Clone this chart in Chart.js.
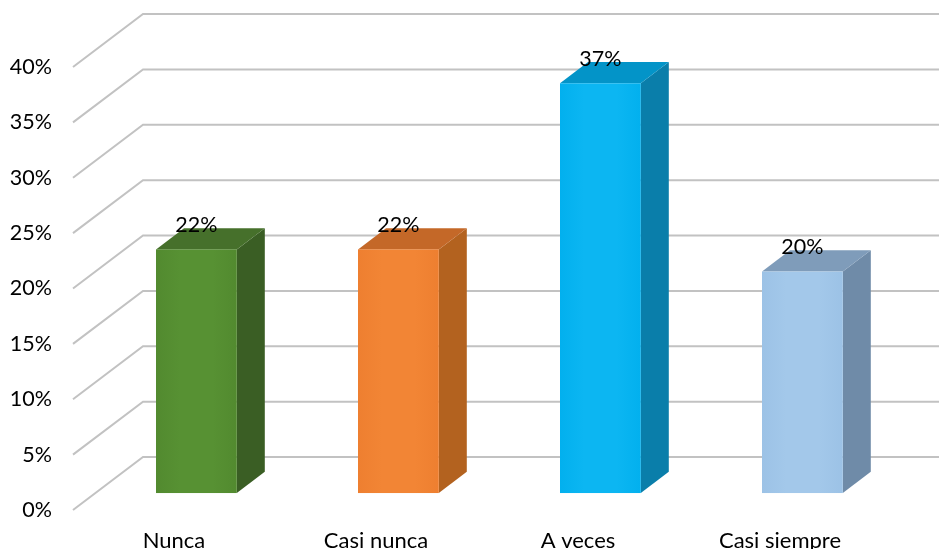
<!DOCTYPE html>
<html>
<head>
<meta charset="utf-8">
<script src="https://cdn.jsdelivr.net/npm/chart.js@4/dist/chart.umd.min.js"></script>
<style>
  html, body { margin: 0; padding: 0; background: #ffffff; }
  #wrap { width: 939px; height: 549px; }
</style>
</head>
<body>
<div id="wrap"><canvas id="c" width="939" height="549"></canvas></div>
<script>
// Survey answers, share of respondents (%)
const categories = ['Nunca', 'Casi nunca', 'A veces', 'Casi siempre'];
const values = [22, 22, 37, 20];
const yTickValues = [0, 5, 10, 15, 20, 25, 30, 35, 40];

// Face colours for each box: front, side, top
const palette = [
  { front: '#528a2f', light: '#579133', side: '#3a5e24', top: '#46702b' },
  { front: '#ee7f30', light: '#f28535', side: '#b3621f', top: '#c46828' },
  { front: '#02b0ee', light: '#0cb6f2', side: '#0a7eaa', top: '#0394c8' },
  { front: '#9cc2e6', light: '#a3c8ea', side: '#6f8ba8', top: '#7f9cba' }
];

const FONT = 'Lato, "Liberation Sans", sans-serif';

// Oblique projection of the floor depth (front edge -> back wall)
const DEPTH = { x: 70, y: -53 };
const BAR_FRONT = 0.32;   // fraction of the depth where the boxes start
const BAR_BACK = 0.72;    // fraction of the depth where the boxes end

const wallGrid = {
  id: 'wallGrid',
  beforeDatasetsDraw(chart) {
    const ctx = chart.ctx;
    const ys = chart.scales.y;
    const left = chart.chartArea.left;
    ctx.save();
    ctx.lineWidth = 2;
    ctx.strokeStyle = '#c2c2c2';
    ys.ticks.forEach(t => {
      const y = ys.getPixelForValue(t.value);
      ctx.beginPath();
      ctx.moveTo(left, y);
      ctx.lineTo(left + DEPTH.x, y + DEPTH.y);
      ctx.lineTo(chart.width + 20, y + DEPTH.y);
      ctx.stroke();
    });
    ctx.restore();
  }
};

const boxes = {
  id: 'boxes',
  afterDatasetsDraw(chart) {
    const ctx = chart.ctx;
    const meta = chart.getDatasetMeta(0);
    const fx = DEPTH.x * BAR_FRONT, fy = DEPTH.y * BAR_FRONT;
    const dx = DEPTH.x * (BAR_BACK - BAR_FRONT), dy = DEPTH.y * (BAR_BACK - BAR_FRONT);
    ctx.save();
    meta.data.forEach((el, i) => {
      const c = palette[i];
      const x0 = el.x - el.width / 2 + fx;
      const x1 = el.x + el.width / 2 + fx;
      const yt = el.y + fy;
      const yb = el.base + fy;

      // side face
      ctx.fillStyle = c.side;
      ctx.beginPath();
      ctx.moveTo(x1, yt);
      ctx.lineTo(x1 + dx, yt + dy);
      ctx.lineTo(x1 + dx, yb + dy);
      ctx.lineTo(x1, yb);
      ctx.closePath();
      ctx.fill();

      // top face
      ctx.fillStyle = c.top;
      ctx.beginPath();
      ctx.moveTo(x0, yt);
      ctx.lineTo(x0 + dx, yt + dy);
      ctx.lineTo(x1 + dx, yt + dy);
      ctx.lineTo(x1, yt);
      ctx.closePath();
      ctx.fill();

      // front face with a soft horizontal sheen
      const g = ctx.createLinearGradient(x0, 0, x1, 0);
      g.addColorStop(0, c.front);
      g.addColorStop(0.3, c.light);
      g.addColorStop(0.7, c.light);
      g.addColorStop(1, c.front);
      ctx.fillStyle = g;
      ctx.fillRect(x0, yt, x1 - x0, yb - yt);

      // value label above the box
      ctx.fillStyle = '#000000';
      ctx.font = '21.5px ' + FONT;
      ctx.textAlign = 'center';
      ctx.textBaseline = 'alphabetic';
      ctx.fillText(values[i] + '%', (x0 + x1) / 2, yt + dy + 4);
    });
    ctx.restore();
  }
};

new Chart(document.getElementById('c'), {
  type: 'bar',
  data: {
    labels: categories,
    datasets: [{
      data: values,
      backgroundColor: 'rgba(0,0,0,0)',
      borderWidth: 0,
      barPercentage: 0.4,
      categoryPercentage: 1.0
    }]
  },
  options: {
    responsive: false,
    animation: false,
    devicePixelRatio: 1,
    layout: { padding: { top: 67, right: 58, left: 0, bottom: 0 } },
    plugins: { legend: { display: false }, tooltip: { enabled: false } },
    scales: {
      x: {
        grid: { display: false, drawTicks: false },
        border: { display: false },
        ticks: { color: '#000000', font: { family: FONT, size: 22 }, padding: 18, maxRotation: 0 },
        afterFit(s) { s.height = 39; }
      },
      y: {
        min: 0,
        max: 40,
        afterBuildTicks(s) { s.ticks = yTickValues.map(v => ({ value: v })); },
        grid: { display: false, drawTicks: false },
        border: { display: false },
        ticks: {
          color: '#000000',
          font: { family: FONT, size: 21.5 },
          padding: 21,
          callback: v => v + '%'
        },
        afterFit(s) { s.width = 73; }
      }
    }
  },
  plugins: [wallGrid, boxes]
});
</script>
</body>
</html>
